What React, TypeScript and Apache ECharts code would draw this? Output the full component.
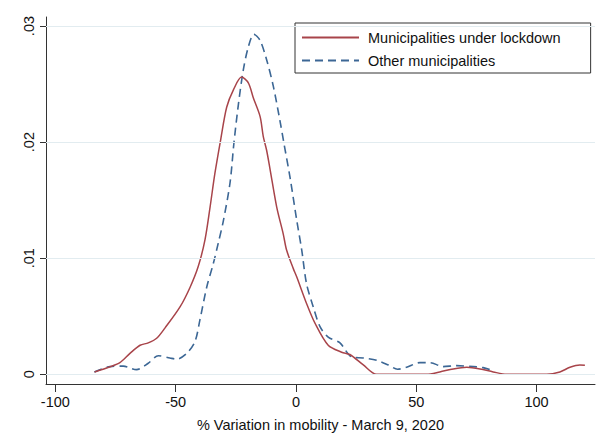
import React, { useEffect, useRef } from "react";
import * as echarts from "echarts";

const lockdownX = [-83.7, -77.3, -73.2, -69, -64.8, -61.4, -57.9, -54.4, -48.2, -44, -40.6, -37.8, -35.7, -33.7, -31.3, -28.8, -26, -22.6, -19.8, -17.7, -14.9, -13.6, -12.2, -10.8, -8, -5.3, -3.9, -1.1, 0.3, 4.4, 7.9, 13.4, 19, 22.4, 28, 33.5, 54.3, 59.8, 65.4, 71, 76.5, 82, 87.6, 104.2, 109.7, 113.9, 118, 120.1];
const lockdownY = [0.0002, 0.00065, 0.001, 0.0018, 0.0025, 0.0027, 0.0031, 0.004, 0.0058, 0.0075, 0.0093, 0.0116, 0.0144, 0.0173, 0.0202, 0.023, 0.0245, 0.0256, 0.0251, 0.0238, 0.0222, 0.0205, 0.0193, 0.0177, 0.0144, 0.0121, 0.0107, 0.0091, 0.0084, 0.0061, 0.0044, 0.0025, 0.0019, 0.0017, 0.0008, 0, 0, 0.0002, 0.00046, 0.0006, 0.00046, 0.0002, 0, 0, 0.0002, 0.0006, 0.0008, 0.00078];

const otherX = [-83.8, -77.3, -71.8, -66.3, -61.4, -57.2, -52.4, -49.6, -45.4, -42, -39.9, -37.1, -34.4, -32.3, -30.2, -27.4, -25.8, -23.9, -21.9, -19.8, -17.5, -15, -12.2, -9.4, -6.7, -5, -2.5, 0.3, 2.4, 4.4, 7.2, 10, 13.4, 18.3, 23.1, 28, 33.5, 38.4, 42.2, 46, 51.5, 55.7, 61.2, 66.8, 73.7, 77.8, 82];
const otherY = [0.0002, 0.00066, 0.0007, 0.0004, 0.00095, 0.0016, 0.0014, 0.0013, 0.0018, 0.0028, 0.0047, 0.0075, 0.0095, 0.0113, 0.0132, 0.0165, 0.0199, 0.0233, 0.0262, 0.0282, 0.0293, 0.0288, 0.0271, 0.0248, 0.0219, 0.0199, 0.017, 0.0133, 0.0107, 0.0078, 0.0058, 0.0041, 0.0032, 0.0027, 0.0015, 0.0014, 0.0012, 0.0008, 0.00043, 0.0006, 0.001, 0.001, 0.00066, 0.00074, 0.00066, 0.00057, 0.0003];

const xTicks = [-100, -50, 0, 50, 100];
const yTicks = [0, 0.01, 0.02, 0.03];
const seriesNames = ["Municipalities under lockdown", "Other municipalities"];
const xTitle = "% Variation in mobility - March 9, 2020";

const FONT = "'Liberation Sans', Arial, Helvetica, sans-serif";
const RED = "#a8444a";
const BLUE = "#3c6795";

export default function App() {
  const ref = useRef<HTMLDivElement>(null);
  useEffect(() => {
    if (!ref.current) return;
    const chart = echarts.init(ref.current, null, { renderer: "svg" });
    const pairs = (xs: number[], ys: number[]) => xs.map((x, i) => [x, ys[i]]);
    chart.setOption({
      animation: false,
      backgroundColor: "#ffffff",
      textStyle: { fontFamily: FONT },
      grid: { left: 46, right: 17, top: 17, bottom: 62 },
      legend: {
        data: seriesNames,
        orient: "vertical",
        left: 295,
        top: 23,
        backgroundColor: "#ffffff",
        borderColor: "#333333",
        borderWidth: 1,
        borderRadius: 0,
        padding: [7, 30, 5, 6],
        itemWidth: 57,
        itemHeight: 14,
        itemGap: 8,
        itemStyle: { opacity: 0 },
        textStyle: { fontSize: 14.5, color: "#111", fontFamily: FONT, padding: [0, 0, 0, 4] },
      },
      xAxis: {
        type: "value",
        min: -103.9,
        max: 124.3,
        name: xTitle,
        nameLocation: "middle",
        nameGap: 33,
        nameTextStyle: { fontSize: 14.5, color: "#111", fontFamily: FONT },
        axisLine: { show: true, onZero: false, lineStyle: { color: "#333", width: 1 } },
        axisTick: { show: true, length: 8, customValues: xTicks, lineStyle: { color: "#333" } },
        axisLabel: { customValues: xTicks, fontSize: 14.5, color: "#111", margin: 10, fontFamily: FONT },
        splitLine: { show: false },
      },
      yAxis: {
        type: "value",
        min: -0.00084,
        max: 0.03078,
        axisLine: { show: true, onZero: false, lineStyle: { color: "#333", width: 1 } },
        axisTick: { show: true, length: 6, customValues: yTicks, lineStyle: { color: "#333" } },
        axisLabel: {
          customValues: yTicks,
          rotate: 90,
          fontSize: 14.5,
          color: "#111",
          margin: 10,
          fontFamily: FONT,
          formatter: (v: number) => (v === 0 ? "0" : v.toFixed(2).replace(/^0/, "")),
        },
        splitLine: { show: false },
      },
      series: [
        {
          name: "grid",
          type: "line",
          data: [],
          z: 1,
          silent: true,
          markLine: {
            silent: true,
            symbol: "none",
            label: { show: false },
            lineStyle: { color: "#e2ecf0", width: 1, type: "solid" },
            data: yTicks.map((v) => ({ yAxis: v })),
          },
        },
        {
          name: seriesNames[0],
          type: "line",
          data: pairs(lockdownX, lockdownY),
          symbol: "none",
          showSymbol: false,
          smooth: 0.3,
          z: 3,
          lineStyle: { color: RED, width: 1.5 },
          itemStyle: { color: RED },
        },
        {
          name: seriesNames[1],
          type: "line",
          data: pairs(otherX, otherY),
          symbol: "none",
          showSymbol: false,
          smooth: 0.3,
          z: 2,
          lineStyle: { color: BLUE, width: 1.6, type: [8, 5] },
          itemStyle: { color: BLUE },
        },
      ],
    });
    return () => chart.dispose();
  }, []);
  return <div ref={ref} style={{ position: "fixed", left: 0, top: 0, width: 612, height: 446 }} />;
}
